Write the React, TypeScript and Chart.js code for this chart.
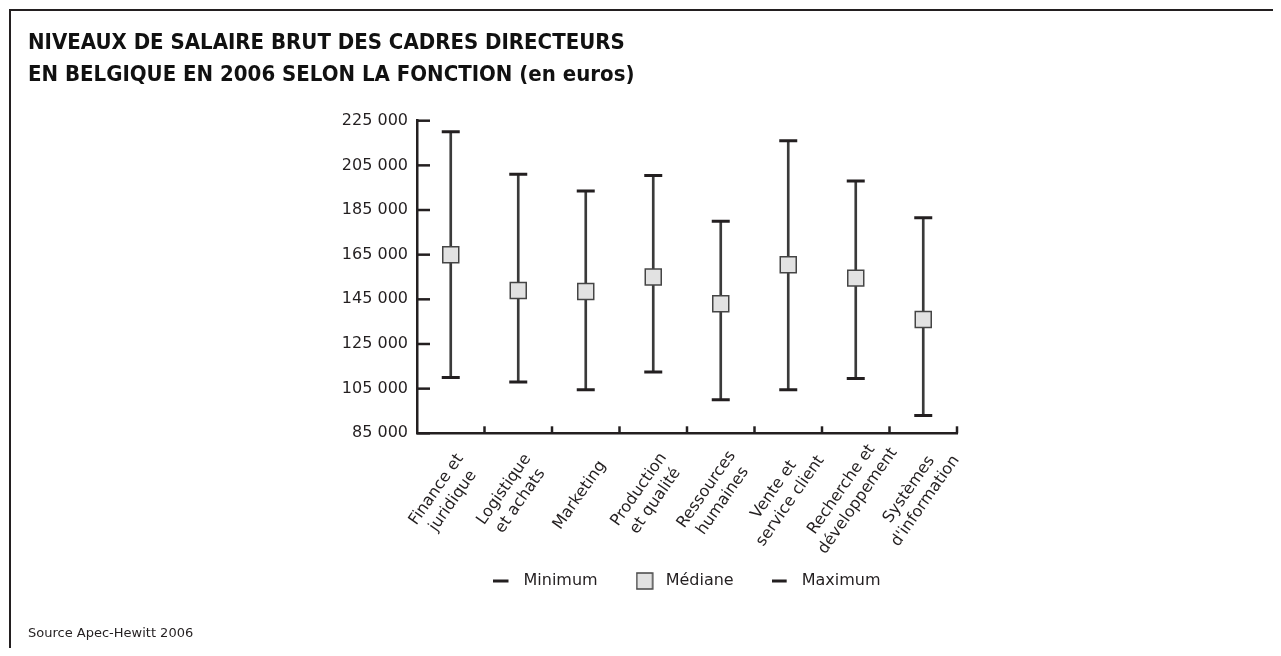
import React, { useEffect, useRef } from 'react';
import { Chart, registerables } from 'chart.js';

Chart.register(...registerables);

// ---------- data ----------
const categories: string[][] = [
  ['Finance et', 'juridique'],
  ['Logistique', 'et achats'],
  ['Marketing'],
  ['Production', 'et qualité'],
  ['Ressources', 'humaines'],
  ['Vente et', 'service client'],
  ['Recherche et', 'développement'],
  ['Systèmes', "d'information"],
];
const minimumValues = [110000, 108000, 104500, 112500, 100000, 104500, 109500, 93000];
const medianValues = [165000, 149000, 148500, 155000, 143000, 160500, 154500, 136000];
const maximumValues = [220000, 201000, 193500, 200500, 180000, 216000, 198000, 181500];
const yMin = 85000;
const yMax = 225000;
const yStep = 20000;
const titleLines = [
  'NIVEAUX DE SALAIRE BRUT DES CADRES DIRECTEURS',
  'EN BELGIQUE EN 2006 SELON LA FONCTION (en euros)',
];
const sourceText = 'Source Apec-Hewitt 2006';
const legendLabels = ['Minimum', 'Médiane', 'Maximum'];

// ---------- styles ----------
const INK = '#231f20';
const WHISKER = '#3a3a3a';
const BOX_FILL = '#e2e2e2';
const BOX_BORDER = '#454545';
const FONT = "'DejaVu Sans', sans-serif";
const TITLE_FONT = "'DejaVu Sans Condensed', 'DejaVu Sans', sans-serif";
const LABEL_ROTATION = 55;
const LABEL_DX = -6;
const LABEL_DY = 62;
const LABEL_LINE = 20;
const LABEL_SIZE = 16;

const formatThousands = (v: number) =>
  String(v).replace(/\B(?=(\d{3})+(?!\d))/g, ' ');

function makeMarker(kind: 'line' | 'box'): HTMLCanvasElement {
  const c = document.createElement('canvas');
  c.width = 22;
  c.height = 18;
  const ctx = c.getContext('2d')!;
  if (kind === 'line') {
    ctx.fillStyle = INK;
    ctx.fillRect(0, 7.5, 15, 3);
  } else {
    ctx.fillStyle = BOX_FILL;
    ctx.fillRect(1, 1, 16, 16);
    ctx.strokeStyle = BOX_BORDER;
    ctx.lineWidth = 1.5;
    ctx.strokeRect(1, 1, 16, 16);
  }
  return c;
}

const axisDecorPlugin = {
  id: 'axisDecor',
  afterDraw(chart: any) {
    const { ctx, chartArea } = chart;
    const x = chart.scales.x;
    const y = chart.scales.y;
    ctx.save();
    ctx.strokeStyle = INK;
    ctx.lineWidth = 2.5;
    // inward y ticks
    y.ticks.forEach((t: any) => {
      const py = y.getPixelForValue(t.value);
      ctx.beginPath();
      ctx.moveTo(chartArea.left, py);
      ctx.lineTo(chartArea.left + 13, py);
      ctx.stroke();
    });
    // upward x ticks at category boundaries
    for (let i = 1; i <= categories.length; i++) {
      const px =
        i < categories.length
          ? (x.getPixelForValue(i - 1) + x.getPixelForValue(i)) / 2
          : chartArea.right;
      ctx.beginPath();
      ctx.moveTo(px, chartArea.bottom);
      ctx.lineTo(px, chartArea.bottom - 7);
      ctx.stroke();
    }
    // rotated, centred category labels
    ctx.font = `${LABEL_SIZE}px ${FONT}`;
    ctx.fillStyle = INK;
    ctx.textAlign = 'center';
    ctx.textBaseline = 'middle';
    categories.forEach((lines, i) => {
      const px = x.getPixelForValue(i) + LABEL_DX;
      const py = chartArea.bottom + LABEL_DY;
      ctx.save();
      ctx.translate(px, py);
      ctx.rotate((-LABEL_ROTATION * Math.PI) / 180);
      lines.forEach((line, k) => {
        ctx.fillText(line, 0, (k - (lines.length - 1) / 2) * LABEL_LINE);
      });
      ctx.restore();
    });
    ctx.restore();
  },
};

export default function App() {
  const canvasRef = useRef<HTMLCanvasElement | null>(null);

  useEffect(() => {
    if (!canvasRef.current) return;
    const lineMarker = makeMarker('line');
    const boxMarker = makeMarker('box');

    const chart = new Chart(canvasRef.current, {
      type: 'bar',
      data: {
        labels: categories,
        datasets: [
          {
            type: 'line',
            label: legendLabels[1],
            data: medianValues,
            showLine: false,
            pointStyle: 'rect',
            pointRadius: 11.3,
            pointHoverRadius: 11.3,
            pointBackgroundColor: BOX_FILL,
            pointBorderColor: BOX_BORDER,
            pointBorderWidth: 1.5,
            order: 0,
          } as any,
          {
            type: 'line',
            label: legendLabels[0],
            data: minimumValues,
            showLine: false,
            pointStyle: 'line',
            pointRadius: 9,
            pointHoverRadius: 9,
            pointBorderColor: INK,
            pointBorderWidth: 3,
            order: 1,
          } as any,
          {
            type: 'line',
            label: legendLabels[2],
            data: maximumValues,
            showLine: false,
            pointStyle: 'line',
            pointRadius: 9,
            pointHoverRadius: 9,
            pointBorderColor: INK,
            pointBorderWidth: 3,
            order: 1,
          } as any,
          {
            type: 'bar',
            label: 'range',
            data: categories.map((_, i) => [minimumValues[i], maximumValues[i]]),
            backgroundColor: WHISKER,
            borderWidth: 0,
            barThickness: 2,
            order: 2,
          } as any,
        ],
      },
      options: {
        responsive: false,
        animation: false,
        events: [],
        layout: { padding: { left: 28, right: 324, top: 0, bottom: 0 } },
        scales: {
          x: {
            offset: true,
            grid: { display: false, drawTicks: false },
            border: { display: true, color: INK, width: 2.5 },
            ticks: { display: false },
            afterFit: (scale: any) => {
              scale.height = 101.7;
            },
          },
          y: {
            min: yMin,
            max: yMax,
            grid: { display: false, drawTicks: false },
            border: { display: true, color: INK, width: 2.5 },
            ticks: {
              stepSize: yStep,
              padding: 9,
              color: INK,
              font: { family: FONT, size: 16 },
              callback: (v: any) => formatThousands(Number(v)),
            },
            afterFit: (scale: any) => {
              scale.width = 389;
            },
          },
        },
        plugins: {
          title: {
            display: true,
            text: titleLines,
            align: 'start',
            color: '#111',
            font: { family: TITLE_FONT, weight: 'bold', size: 22, lineHeight: 32.7 / 22 },
            padding: { top: 26.65, bottom: 28.65 },
          },
          subtitle: {
            display: true,
            text: sourceText,
            position: 'bottom',
            align: 'start',
            color: INK,
            font: { family: FONT, size: 13, lineHeight: 1.2 },
            padding: { top: 26.5, bottom: 14.9 },
          },
          legend: {
            display: true,
            position: 'bottom',
            fullSize: false,
            labels: {
              usePointStyle: true,
              pointStyleWidth: 22,
              boxHeight: 16,
              padding: 38,
              color: INK,
              font: { family: FONT, size: 16 },
              generateLabels: () =>
                legendLabels.map((text, i) => ({
                  text,
                  pointStyle: i === 1 ? boxMarker : lineMarker,
                  fillStyle: i === 1 ? BOX_FILL : INK,
                  strokeStyle: i === 1 ? BOX_BORDER : INK,
                  lineWidth: 0,
                  hidden: false,
                  datasetIndex: i,
                  fontColor: INK,
                })) as any,
            },
          },
          tooltip: { enabled: false },
        },
      } as any,
      plugins: [axisDecorPlugin],
    });

    return () => chart.destroy();
  }, []);

  return (
    <div style={{ position: 'relative', margin: '-8px', height: 656, overflow: 'hidden', background: '#fff' }}>
      <div
        style={{
          position: 'absolute',
          left: 9,
          top: 9,
          right: 0,
          bottom: 0,
          borderTop: `2px solid ${INK}`,
          borderLeft: `2px solid ${INK}`,
        }}
      />
      <canvas
        ref={canvasRef}
        width={1281}
        height={656}
        style={{ position: 'absolute', left: 0, top: 0, width: 1281, height: 656 }}
      />
    </div>
  );
}
